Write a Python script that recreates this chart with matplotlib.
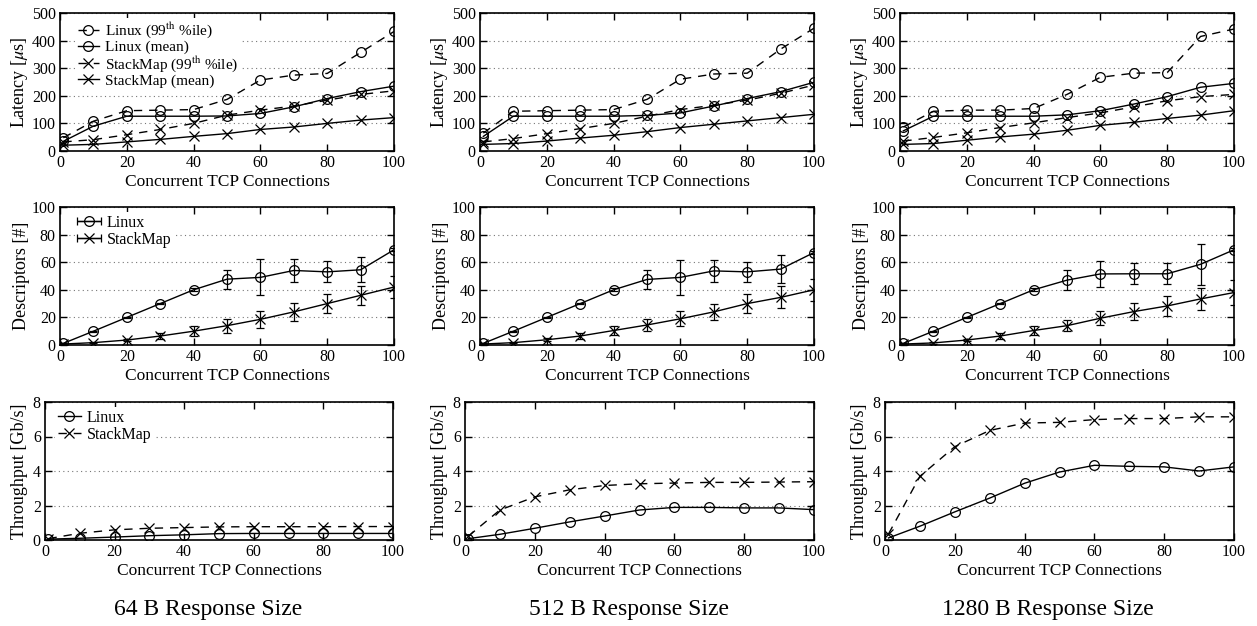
import matplotlib as mpl
mpl.use("Agg")
import matplotlib.pyplot as plt
from matplotlib.container import ErrorbarContainer
from matplotlib.legend_handler import HandlerErrorbar

plt.rcParams.update({
    "font.family": ["Liberation Serif", "DejaVu Serif"],
    "mathtext.fontset": "stix",
    "font.size": 12,
    "axes.linewidth": 1.2,
})

# concurrent connections (x axis, shared by every panel)
conns = [1, 10, 20, 30, 40, 50, 60, 70, 80, 90, 100]
sizes = ["64 B", "512 B", "1280 B"]

# ---- latency [us] ----
lat_linux_p99_64 = [48, 108, 146, 148, 150, 187, 257, 275, 281, 357, 433]
lat_linux_mean_64 = [35, 90, 126, 126, 126, 127, 136, 160, 190, 215, 235]
lat_sm_p99_64 = [33, 41, 59, 78, 100, 130, 148, 163, 184, 205, 218]
lat_sm_mean_64 = [21, 24, 33, 42, 53, 63, 78, 87, 100, 112, 121]

lat_linux_p99_512 = [65, 144, 146, 148, 150, 187, 260, 279, 282, 369, 445]
lat_linux_mean_512 = [53, 126, 126, 126, 126, 129, 138, 163, 190, 215, 249]
lat_sm_p99_512 = [33, 45, 63, 81, 100, 126, 150, 166, 184, 209, 239]
lat_sm_mean_512 = [24, 27, 36, 47, 57, 70, 85, 97, 109, 121, 133]

lat_linux_p99_1280 = [87, 144, 148, 148, 154, 205, 267, 282, 284, 415, 442]
lat_linux_mean_1280 = [73, 126, 126, 126, 126, 131, 146, 170, 197, 231, 245]
lat_sm_p99_1280 = [36, 49, 66, 85, 102, 121, 138, 160, 182, 197, 205]
lat_sm_mean_1280 = [24, 27, 39, 51, 61, 75, 93, 104, 118, 130, 146]

# ---- descriptors [#] (mean and error) ----
desc_linux_64 = [1.2, 10, 20, 30, 40, 47.7, 49, 54, 53, 54.5, 69]
desc_linux_err_64 = [0.3, 0.5, 0.5, 0.5, 1, 7, 13, 8, 7.6, 9, 1]
desc_sm_64 = [0.7, 1.7, 3.6, 6.5, 10, 14, 18.6, 24, 30, 36, 42]
desc_sm_err_64 = [0.3, 0.5, 1, 2, 3.5, 5, 6, 6.5, 7, 7, 8]

desc_linux_512 = [1.2, 10, 20, 30, 40, 47.5, 49, 53.7, 53, 55, 67]
desc_linux_err_512 = [0.3, 0.5, 0.5, 0.5, 1, 7, 12.5, 8, 7.5, 10, 1]
desc_sm_512 = [0.7, 1.7, 3.8, 6.5, 10.5, 14.5, 19, 24, 30, 34.5, 40]
desc_sm_err_512 = [0.3, 0.5, 1, 2, 3.5, 4.5, 5.5, 6, 7, 8, 8]

desc_linux_1280 = [1.2, 10, 20, 30, 40, 47, 51.5, 51.6, 51.6, 58.5, 69]
desc_linux_err_1280 = [0.3, 0.5, 0.5, 0.5, 1, 7, 9.5, 7.5, 7.5, 15, 1]
desc_sm_1280 = [0.7, 1.5, 3.6, 6.5, 10.5, 14, 19.4, 24.2, 28.3, 33.4, 38]
desc_sm_err_1280 = [0.3, 0.5, 1, 2, 3.5, 4, 5, 6, 7, 8, 9]

# ---- throughput [Gb/s] ----
tput_linux_64 = [0.05, 0.1, 0.17, 0.25, 0.3, 0.37, 0.38, 0.38, 0.38, 0.38, 0.38]
tput_sm_64 = [0.08, 0.39, 0.59, 0.68, 0.72, 0.76, 0.77, 0.77, 0.77, 0.78, 0.78]

tput_linux_512 = [0.08, 0.33, 0.68, 1.05, 1.39, 1.74, 1.89, 1.89, 1.86, 1.86, 1.76]
tput_sm_512 = [0.23, 1.74, 2.5, 2.91, 3.16, 3.26, 3.3, 3.34, 3.34, 3.36, 3.38]

tput_linux_1280 = [0.12, 0.8, 1.63, 2.43, 3.29, 3.94, 4.33, 4.27, 4.24, 4.0, 4.24]
tput_sm_1280 = [0.35, 3.69, 5.41, 6.35, 6.78, 6.82, 6.98, 7.04, 7.04, 7.14, 7.14]

lat = [
    (lat_linux_p99_64, lat_linux_mean_64, lat_sm_p99_64, lat_sm_mean_64),
    (lat_linux_p99_512, lat_linux_mean_512, lat_sm_p99_512, lat_sm_mean_512),
    (lat_linux_p99_1280, lat_linux_mean_1280, lat_sm_p99_1280, lat_sm_mean_1280),
]
desc = [
    (desc_linux_64, desc_linux_err_64, desc_sm_64, desc_sm_err_64),
    (desc_linux_512, desc_linux_err_512, desc_sm_512, desc_sm_err_512),
    (desc_linux_1280, desc_linux_err_1280, desc_sm_1280, desc_sm_err_1280),
]
tput = [
    (tput_linux_64, tput_sm_64),
    (tput_linux_512, tput_sm_512),
    (tput_linux_1280, tput_sm_1280),
]

W, H = 1257, 626
fig = plt.figure(figsize=(W / 100, H / 100), dpi=100)


def add_ax(l, t, r, b):
    return fig.add_axes([l / W, 1 - b / H, (r - l) / W, (b - t) / H])


def style(ax, ymax, ystep, ylabel, lab_x):
    ax.set_xlim(0, 100)
    ax.set_ylim(0, ymax)
    ax.set_xticks(range(0, 101, 20))
    ax.set_yticks([v * ystep for v in range(int(ymax / ystep) + 1)])
    ax.tick_params(direction="in", top=True, right=True, length=5, width=1,
                   labelsize=11.5, pad=3)
    ax.yaxis.grid(True, linestyle=(0, (1, 3)), color="#777777", lw=0.8)
    ax.set_axisbelow(True)
    ax.set_xlabel("Concurrent TCP Connections", fontsize=12.5, labelpad=2)
    ax.set_ylabel(ylabel, fontsize=13)
    ax.yaxis.set_label_coords(lab_x, 0.5)


DASH = (0, (6, 5))
mk = dict(color="black", lw=1.0, ms=7, mew=0.9, mfc="none")
leg_kw = dict(loc="upper left", frameon=True, edgecolor="none",
              facecolor="white", framealpha=1, handlelength=1.4,
              handletextpad=0.4, borderaxespad=0.3, borderpad=0.2)

lefts = [60, 480, 900]
rights = [394, 814, 1234]
lefts3 = [45, 465, 885]
rights3 = [393, 814, 1234]
cap_x = [208, 629, 1048]

for i in range(3):
    # latency
    ax = add_ax(lefts[i], 13, rights[i], 151)
    p99, mean, sp99, smean = lat[i]
    ax.plot(conns, p99, marker="o", ls=DASH, label=r"Linux (99$^{\mathrm{th}}$ %ile)", **mk)
    ax.plot(conns, mean, marker="o", ls="-", label="Linux (mean)", **mk)
    ax.plot(conns, sp99, marker="x", ls=DASH, label=r"StackMap (99$^{\mathrm{th}}$ %ile)", **mk)
    ax.plot(conns, smean, marker="x", ls="-", label="StackMap (mean)", **mk)
    style(ax, 500, 100, r"Latency [$\mu$s]", -0.09)
    if i == 0:
        ax.legend(bbox_to_anchor=(0.03, 1.0), labelspacing=0.0, fontsize=11,
                  **leg_kw)

    # descriptors
    ax = add_ax(lefts[i], 207, rights[i], 345)
    dl, dle, ds, dse = desc[i]
    ax.errorbar(conns, dl, yerr=dle, fmt="-o", capsize=3, elinewidth=0.9,
                capthick=0.9, **mk)
    ax.errorbar(conns, ds, yerr=dse, fmt="-x", capsize=3, elinewidth=0.9,
                capthick=0.9, **mk)
    if i == 0:
        # key entries drawn with a horizontal bar, gnuplot style
        h1 = ax.errorbar([float("nan")], [float("nan")], xerr=[1], fmt="-o",
                         capsize=3, elinewidth=0.9, capthick=0.9, **mk)
        h2 = ax.errorbar([float("nan")], [float("nan")], xerr=[1], fmt="-x",
                         capsize=3, elinewidth=0.9, capthick=0.9, **mk)
        ax.legend([h1, h2], ["Linux", "StackMap"], bbox_to_anchor=(0.03, 1.0),
                  labelspacing=0.05, fontsize=11.5,
                  handler_map={ErrorbarContainer: HandlerErrorbar(xerr_size=0.75)},
                  **leg_kw)
    style(ax, 100, 20, "Descriptors [#]", -0.09)

    # throughput
    ax = add_ax(lefts3[i], 402, rights3[i], 540)
    tl, ts = tput[i]
    ax.plot(conns, tl, marker="o", ls="-", label="Linux", **mk)
    ax.plot(conns, ts, marker="x", ls=DASH, label="StackMap", **mk)
    style(ax, 8, 2, "Throughput [Gb/s]", -0.05)
    if i == 0:
        ax.legend(bbox_to_anchor=(0.015, 1.0), labelspacing=0.05, fontsize=11.5,
                  **leg_kw)

    fig.text(cap_x[i] / W, 1 - 610 / H, sizes[i] + " Response Size",
             ha="center", va="center", fontsize=17)

fig.savefig("out.png", dpi=100)
